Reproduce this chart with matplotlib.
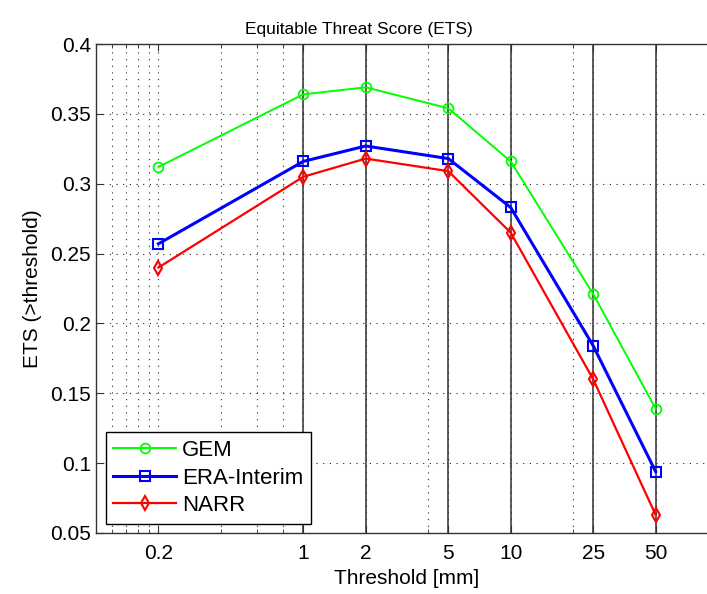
import matplotlib
matplotlib.use("Agg")
import matplotlib.pyplot as plt
from matplotlib.ticker import NullFormatter
import numpy as np

plt.rcParams['font.family'] = ['Liberation Sans', 'DejaVu Sans']

# data
thresholds = [0.2, 1, 2, 5, 10, 25, 50]
gem = [0.312, 0.364, 0.369, 0.354, 0.316, 0.221, 0.139]
era = [0.257, 0.316, 0.327, 0.318, 0.283, 0.184, 0.094]
narr = [0.240, 0.305, 0.318, 0.309, 0.265, 0.160, 0.063]

xticks = [0.2, 1, 2, 5, 10, 25, 50]
xticklabels = ["0.2", "1", "2", "5", "10", "25", "50"]
xminor = [0.12, 0.14, 0.16, 0.18, 0.4, 0.6, 0.8, 4, 20]
yticks = [0.05, 0.1, 0.15, 0.2, 0.25, 0.3, 0.35, 0.4]
yticklabels = ["0.05", "0.1", "0.15", "0.2", "0.25", "0.3", "0.35", "0.4"]

fig = plt.figure(figsize=(7.07, 5.94), dpi=100)
ax = fig.add_axes([0.1358, 0.1027, 0.8798, 0.8232])

ax.set_xscale('log')
ax.set_xlim(0.1, 100)
ax.set_ylim(0.05, 0.4)

ax.set_xticks(xticks)
ax.set_xticklabels(xticklabels)
ax.set_xticks(xminor, minor=True)
ax.xaxis.set_minor_formatter(NullFormatter())
ax.set_yticks(yticks)
ax.set_yticklabels(yticklabels)

dots = (0, (1, 5))
ax.xaxis.grid(True, which='major', linestyle=dots, color='#222222', lw=0.8)
ax.xaxis.grid(True, which='minor', linestyle=dots, color='#222222', lw=0.8)
ax.yaxis.grid(True, which='major', linestyle=dots, color='#222222', lw=0.8)
for xv in xticks[1:]:
    ax.axvline(xv, color='#303030', lw=1.1, zorder=1.5)
ax.set_axisbelow(True)

ax.plot(thresholds, gem, color='#00ff00', lw=1.4, marker='o', ms=7,
        mfc='none', mew=1.3, label='GEM', zorder=3)
ax.plot(thresholds, era, color='#0000ff', lw=2.2, marker='s', ms=7.5,
        mfc='none', mew=1.5, label='ERA-Interim', zorder=3)
ax.plot(thresholds, narr, color='#ff0000', lw=1.6, marker='d', ms=7,
        mfc='none', mew=1.5, label='NARR', zorder=3)

ax.tick_params(axis='both', which='both', direction='in', top=True, right=True,
               labelsize=15, color='#333333')
ax.tick_params(which='major', length=5)
ax.tick_params(which='minor', length=3)
ax.tick_params(axis='x', pad=8)
for sp in ax.spines.values():
    sp.set_color('#333333')
    sp.set_linewidth(1.0)

ax.set_title('Equitable Threat Score (ETS)', fontsize=12.5, x=0.423, pad=7)
ax.set_xlabel('Threshold [mm]', fontsize=15, labelpad=4)
ax.set_ylabel('ETS (>threshold)', fontsize=15, labelpad=6)

leg = ax.legend(loc='lower left', bbox_to_anchor=(105.7 / 707, 1 - 524 / 594),
                bbox_transform=fig.transFigure, fontsize=16, fancybox=False,
                edgecolor='black', framealpha=1, handlelength=2.8,
                handletextpad=0.3, labelspacing=0.3, borderpad=0.35,
                borderaxespad=0)
leg.get_frame().set_linewidth(1.0)

fig.savefig('out.png', dpi=100)
